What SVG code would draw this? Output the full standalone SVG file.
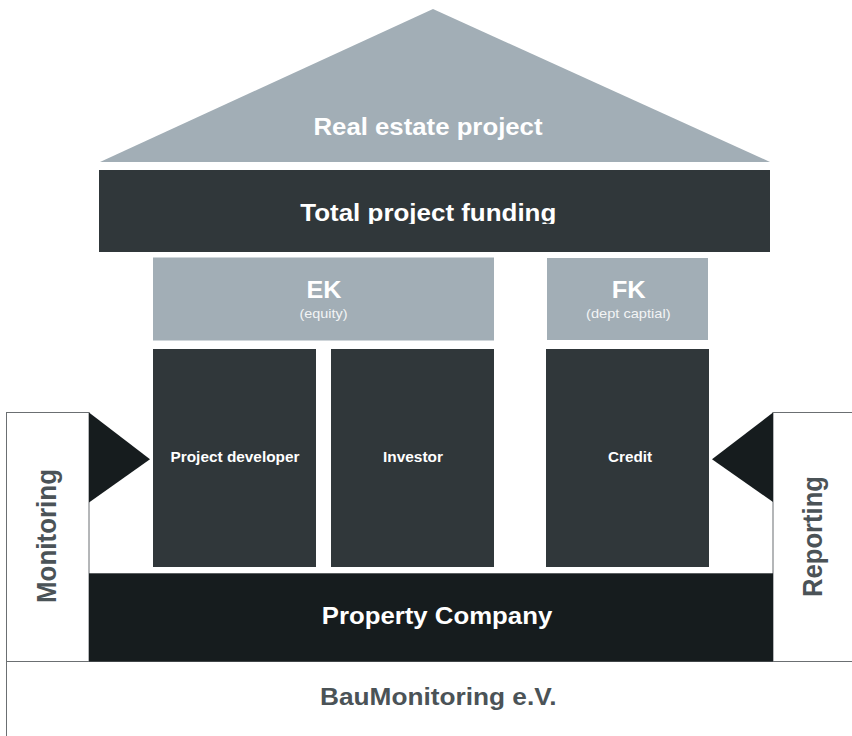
<svg xmlns="http://www.w3.org/2000/svg" width="852" height="736" viewBox="0 0 852 736">
  <defs>
    <style>
      .t { font-family: "Liberation Sans", Arial, sans-serif; font-weight: bold; text-anchor: middle; }
      .light { fill: #a2aeb6; }
      .mid { fill: #30373a; }
      .dark { fill: #161c1e; }
      .box { fill: #ffffff; stroke: #6b6f72; stroke-width: 1; }
      .w { fill: #ffffff; }
      .g { fill: #4b5357; }
      .sub { font-family: "Liberation Sans", Arial, sans-serif; font-weight: normal; text-anchor: middle; fill: #f2f4f5; }
    </style>
    <clipPath id="fundClip">
      <rect x="99" y="170" width="671" height="54"/>
    </clipPath>
  </defs>
  <rect x="0" y="0" width="852" height="736" fill="#ffffff"/>

  <g id="roof">
    <polygon class="light" points="100,162 433,9 770,162"/>
    <text class="t w" x="428" y="135" font-size="24" textLength="229" lengthAdjust="spacingAndGlyphs">Real estate project</text>
  </g>

  <g id="funding">
    <rect class="mid" x="99" y="170" width="671" height="82"/>
    <text class="t w" x="428.3" y="221" font-size="24.5" textLength="256" lengthAdjust="spacingAndGlyphs" clip-path="url(#fundClip)">Total project funding</text>
  </g>

  <g id="ek">
    <rect class="light" x="153" y="257.5" width="341" height="83"/>
    <text class="t w" x="324" y="297.7" font-size="24" textLength="35" lengthAdjust="spacingAndGlyphs">EK</text>
    <text class="sub" x="323.5" y="318" font-size="13.5" textLength="48" lengthAdjust="spacingAndGlyphs">(equity)</text>
  </g>

  <g id="fk">
    <rect class="light" x="547" y="258" width="161" height="82"/>
    <text class="t w" x="628.7" y="297.7" font-size="24" textLength="34" lengthAdjust="spacingAndGlyphs">FK</text>
    <text class="sub" x="628.3" y="318" font-size="13.5" textLength="84.5" lengthAdjust="spacingAndGlyphs">(dept captial)</text>
  </g>

  <g id="project-developer">
    <rect class="mid" x="153" y="349" width="163" height="218"/>
    <text class="t w" x="235" y="462" font-size="14" textLength="129" lengthAdjust="spacingAndGlyphs">Project developer</text>
  </g>

  <g id="investor">
    <rect class="mid" x="331" y="349" width="163" height="218"/>
    <text class="t w" x="413" y="462" font-size="14" textLength="60" lengthAdjust="spacingAndGlyphs">Investor</text>
  </g>

  <g id="credit">
    <rect class="mid" x="546" y="349" width="163" height="218"/>
    <text class="t w" x="630" y="462" font-size="14" textLength="44" lengthAdjust="spacingAndGlyphs">Credit</text>
  </g>

  <g id="baumonitoring">
    <rect class="box" x="6.5" y="661.5" width="850" height="80"/>
    <text class="t g" x="438.3" y="705" font-size="24" textLength="236.5" lengthAdjust="spacingAndGlyphs">BauMonitoring e.V.</text>
  </g>

  <g id="monitoring">
    <rect class="box" x="6.5" y="412.5" width="82.5" height="249"/>
    <text class="t g" transform="translate(55.5,536) rotate(-90) scale(1,1.077)" x="0" y="0" font-size="25.5" textLength="134" lengthAdjust="spacingAndGlyphs">Monitoring</text>
  </g>

  <g id="reporting">
    <rect class="box" x="773" y="412.5" width="84" height="249"/>
    <text class="t g" transform="translate(821.7,536.5) rotate(-90) scale(1,1.077)" x="0" y="0" font-size="25.5" textLength="121" lengthAdjust="spacingAndGlyphs">Reporting</text>
  </g>

  <g id="property-company">
    <rect class="dark" x="89" y="573.3" width="684" height="88.2"/>
    <text class="t w" x="437" y="624.3" font-size="24" textLength="230.5" lengthAdjust="spacingAndGlyphs">Property Company</text>
  </g>

  <g id="connectors">
    <polygon class="dark" points="89,412.5 150,459.3 89,502.5"/>
    <polygon class="dark" points="773,412.5 712,459.3 773,502"/>
  </g>
</svg>
